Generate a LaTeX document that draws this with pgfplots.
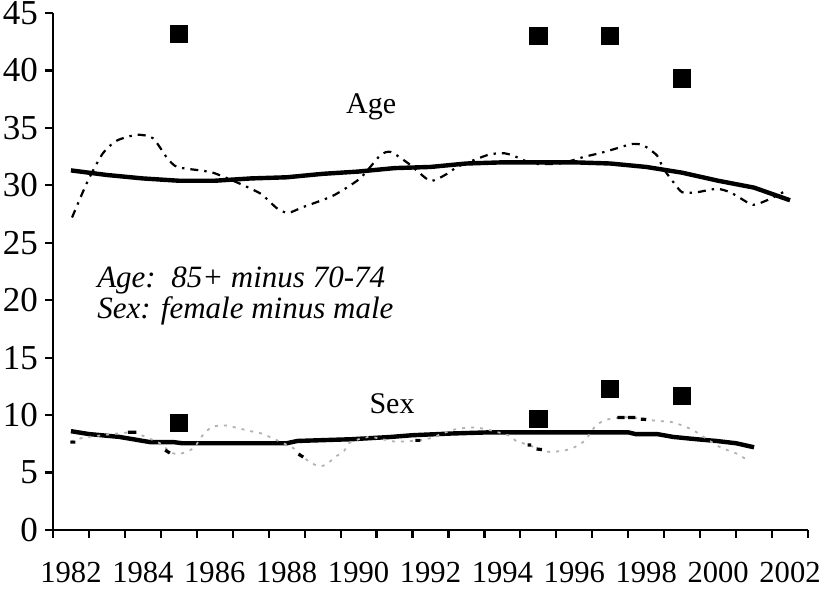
\documentclass[border=0pt]{standalone}
\usepackage{fontspec}
\setmainfont{Liberation Serif}
\usepackage{pgfplots}
\pgfplotsset{compat=1.18}
\begin{document}
\begin{tikzpicture}
\path[use as bounding box] (-26.5pt,-31.5pt) rectangle (389pt,265pt);
\begin{axis}[
  at={(0,0)}, anchor=south west,
  scale only axis, width=377.5pt, height=258.5pt,
  xmin=1981.5, xmax=2002.5, ymin=0, ymax=45,
  axis x line=bottom, axis y line=left,
  axis line style={-, line width=1.1pt},
  every tick/.style={black, line width=1.1pt},
  tick align=outside,
  xtick={1982,1984,1986,1988,1990,1992,1994,1996,1998,2000,2002},
  xticklabels={1982,1984,1986,1988,1990,1992,1994,1996,1998,2000,2002},
  major x tick style={draw=none},
  minor xtick={1981.5,1982.5,1983.5,1984.5,1985.5,1986.5,1987.5,1988.5,1989.5,1990.5,1991.5,1992.5,1993.5,1994.5,1995.5,1996.5,1997.5,1998.5,1999.5,2000.5,2001.5,2002.5},
  minor tick length=4pt, major tick length=4pt,
  ytick={0,5,10,15,20,25,30,35,40,45},
  yticklabels={0,5,10,15,20,25,30,35,40,45},
  xticklabel style={font=\fontsize{15.3}{18}\selectfont, yshift=-8.5pt},
  yticklabel style={font=\fontsize{17.5}{20}\selectfont},
  clip=false,
  unbounded coords=jump,
]
% Age: smoothed trend
\addplot[black, line width=2.2pt, mark=none] coordinates {
(1982,31.3) (1983,30.9) (1984,30.6) (1985,30.4) (1986,30.4) (1987,30.6)
(1988,30.7) (1989,31.0) (1990,31.2) (1991,31.5) (1992,31.6) (1993,31.9)
(1994,32.0) (1995,32.0) (1996,32.0) (1997,31.9) (1998,31.6) (1999,31.1)
(2000,30.4) (2001,29.8) (2002,28.7)};
% Age: raw curve
\addplot[black, line width=1.1pt, smooth, tension=0.4, mark=none,
  dash pattern=on 4pt off 3pt on 1.2pt off 3pt] coordinates {
(1982.03,27.2) (1982.47,30.4) (1982.89,32.8) (1983.28,33.9) (1983.84,34.4)
(1984.28,34.1) (1984.67,32.4) (1984.95,31.6) (1985.59,31.3) (1985.95,31.1)
(1986.51,30.4) (1987.26,29.3) (1987.73,28.0) (1988.04,27.6) (1988.45,28.1)
(1989.29,29.1) (1990.04,30.6) (1990.6,32.6) (1990.9,32.9) (1991.43,31.8)
(1991.99,30.4) (1992.46,31.0) (1992.74,31.6) (1993.29,32.3) (1993.66,32.7)
(1994.02,32.8) (1994.29,32.6) (1994.85,31.9) (1995.60,31.9) (1996.30,32.5)
(1996.71,32.8) (1997.27,33.3) (1997.60,33.6) (1997.91,33.5) (1998.30,32.6)
(1998.47,31.5) (1998.75,30.3) (1999.00,29.4) (1999.41,29.4) (1999.97,29.7)
(2000.33,29.4) (2000.61,28.9) (2000.97,28.3) (2001.36,28.7) (2001.81,29.4)};
% Age: annual points
\addplot[only marks, mark=square*, mark size=4.3pt, black] coordinates {
(1985,43.2) (1995,43.0) (1997,43.0) (1999,39.3)};
% Sex: smoothed trend
\addplot[black, line width=2.2pt, mark=none] coordinates {
(1982,8.6) (1982.5,8.35) (1983.35,8.1) (1984.2,7.65) (1984.85,7.65) (1985.1,7.55)
(1988,7.55) (1988.3,7.75) (1989.8,7.9) (1990.9,8.1) (1991.5,8.25) (1992.6,8.4)
(1993.65,8.5) (1997.5,8.5) (1997.7,8.35) (1998.3,8.35) (1998.75,8.1)
(1999.4,7.9) (1999.95,7.75) (2000.5,7.55) (2001.0,7.2)};
% Sex: raw curve (grey dotted)
\addplot[gray!60, line width=0.9pt, smooth, tension=0.4, mark=none,
  dash pattern=on 1.5pt off 3pt] coordinates {
(1982.0,7.7) (1982.3,8.0) (1983.0,8.3) (1983.7,8.5) (1984.0,8.2) (1984.5,7.5)
(1984.75,6.8) (1985.0,6.6) (1985.4,7.1) (1985.7,8.4) (1985.95,9.0) (1986.3,9.1)
(1986.6,8.9) (1987.0,8.6) (1987.3,8.4) (1987.6,8.0) (1988.2,7.1) (1988.4,6.5)
(1988.65,5.9) (1988.9,5.55) (1989.1,5.7) (1989.35,6.35) (1989.6,6.9) (1989.75,7.6)
(1990.3,8.1) (1991.0,7.7) (1991.65,7.8) (1992.0,8.0) (1992.6,8.7) (1993.0,8.9)
(1993.3,8.9) (1993.65,8.7) (1994.2,8.2) (1994.4,7.7) (1994.75,7.4) (1995.0,7.0)
(1995.3,6.8) (1995.7,6.9) (1996.0,7.2) (1996.3,7.8) (1996.6,9.1) (1996.9,9.6)
(1997.3,9.8) (1997.6,9.8) (1997.9,9.65) (1998.3,9.5) (1998.7,9.4) (1999.0,9.1)
(1999.3,8.7) (1999.5,8.3) (2000.0,7.3) (2000.3,6.9) (2000.55,6.6) (2000.8,6.1)};
% Sex: raw curve, black dash pieces
\addplot[black, line width=1.6pt, mark=none] coordinates {
(1981.98,7.65) (1982.12,7.65) (1982.2,nan)
(1983.58,8.5) (1983.82,8.5) (1983.9,nan)
(1984.62,6.95) (1984.75,6.7) (1984.8,nan)
(1988.33,6.6) (1988.46,6.35) (1988.5,nan)
(1991.58,7.8) (1991.72,7.8) (1991.8,nan)
(1994.7,7.4) (1994.8,7.4) (1994.85,nan)
(1994.95,7.05) (1995.1,7.0) (1995.2,nan)
(1997.2,9.8) (1997.4,9.8) (1997.45,nan)
(1997.5,9.8) (1997.7,9.8) (1997.75,nan)
(1997.85,9.65) (1998.0,9.62)};
% Sex: annual points
\addplot[only marks, mark=square*, mark size=4.3pt, black] coordinates {
(1985,9.3) (1995,9.7) (1997,12.3) (1999,11.65)};
\node[font=\fontsize{15}{18}\selectfont] at (axis cs:1990.35,36.8) {Age};
\node[font=\fontsize{15}{18}\selectfont] at (axis cs:1990.93,11.0) {Sex};
\node[anchor=base west, inner sep=0pt, font=\fontsize{15.5}{18}\selectfont\itshape]
  at (axis cs:1982.72,21.1) {Age:\ \ 85+ minus 70-74};
\node[anchor=base west, inner sep=0pt, font=\fontsize{15.5}{18}\selectfont\itshape]
  at (axis cs:1982.72,18.4) {Sex: female minus male};
\end{axis}
\end{tikzpicture}
\end{document}
